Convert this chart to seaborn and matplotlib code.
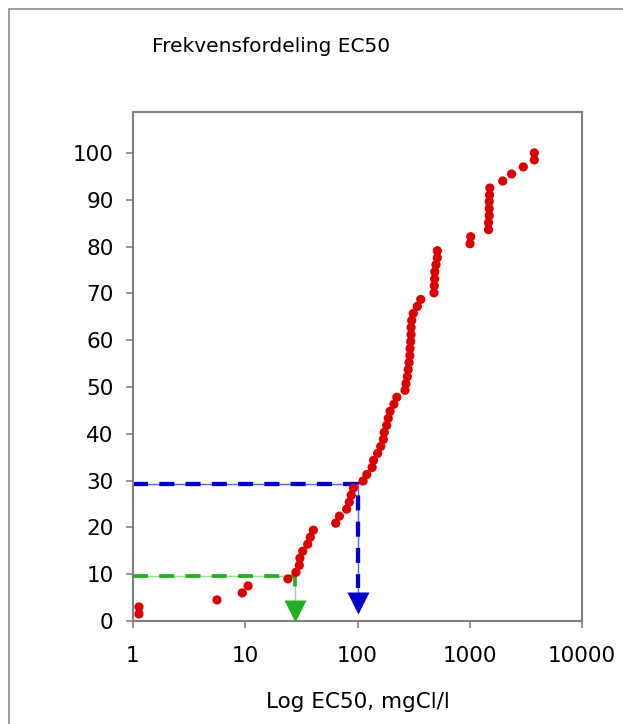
import matplotlib
matplotlib.use('Agg')
import matplotlib.pyplot as plt
import seaborn as sns
import pandas as pd
from matplotlib.patches import Rectangle

# EC50-verdier (mgCl/l), sortert
ec50 = [1.13, 1.13, 5.6, 9.4, 10.6, 24, 28.3, 30.3, 30.7, 32.5,
        36, 38, 40.4, 64, 69, 80, 84.5, 88, 92, 112,
        121, 135, 139, 151, 161, 170, 173, 182, 188, 195,
        211, 224, 265, 270, 278, 283, 288, 293, 294, 298,
        300, 300, 304, 314, 341, 366, 480, 483, 487, 488,
        500, 514, 514, 1005, 1020, 1470, 1470, 1490, 1490, 1490,
        1500, 1510, 1970, 2360, 3000, 3760, 3760]

# kumulativ frekvens (%)
freq = [1.5, 3.0, 4.5, 6.0, 7.5, 9.0, 10.4, 11.9, 13.4, 14.9,
        16.4, 17.9, 19.4, 20.9, 22.4, 23.9, 25.4, 26.9, 28.4, 29.9,
        31.3, 32.8, 34.3, 35.8, 37.3, 38.8, 40.3, 41.8, 43.3, 44.8,
        46.3, 47.8, 49.3, 50.7, 52.2, 53.7, 55.2, 56.7, 58.2, 59.7,
        61.2, 62.7, 64.2, 65.7, 67.2, 68.7, 70.1, 71.6, 73.1, 74.6,
        76.1, 77.6, 79.1, 80.6, 82.1, 83.6, 85.1, 86.6, 88.1, 89.6,
        91.0, 92.5, 94.0, 95.5, 97.0, 98.5, 100.0]

# hjelpelinjer (grønn ~10 %, blå ~30 %)
green_x, green_y = 27.7, 9.6
blue_x, blue_y = 100, 29.2

xticks = [1, 10, 100, 1000, 10000]
xticklabels = ['1', '10', '100', '1000', '10000']
yticks = list(range(0, 101, 10))

df = pd.DataFrame({'EC50': ec50, 'Frekvens': freq})

fig = plt.figure(figsize=(6.23, 7.24), dpi=100)
plt.rcParams['font.family'] = ['DejaVu Sans']
ax = fig.add_axes([133 / 623, 1 - 621 / 724, 449 / 623, 509.3 / 724])

# grønn linje
ax.plot([1, green_x, green_x], [green_y, green_y, 4.5], color='#9ed89e', lw=1, zorder=2)
ax.plot([1, green_x, green_x], [green_y, green_y, 6], color='#22b022', lw=2.7,
        dashes=(4.0, 3.0), zorder=2)
ax.plot([green_x], [2.1], marker='v', ms=16, color='#22b022', mec='none', zorder=3)

# blå linje
ax.plot([1, blue_x, blue_x], [blue_y, blue_y, 6], color='#6060ff', lw=1, zorder=2)
ax.plot([1, blue_x, blue_x], [blue_y, blue_y, 7], color='#0000cc', lw=3.1,
        dashes=(3.5, 2.6), zorder=2)
ax.plot([blue_x], [3.8], marker='v', ms=16, color='#0000cc', mec='none', zorder=3)

sns.scatterplot(data=df, x='EC50', y='Frekvens', ax=ax, color='#dd0000',
                s=44, edgecolor='none', zorder=4, clip_on=False)

ax.set_xscale('log')
ax.set_xlim(1, 10000)
ax.set_ylim(0, 108.8)
ax.set_xticks(xticks)
ax.set_xticklabels(xticklabels)
ax.minorticks_off()
ax.set_yticks(yticks)
ax.set_xlabel('')
ax.set_ylabel('')

for sp in ax.spines.values():
    sp.set_color('#808080')
    sp.set_linewidth(1.5)
ax.tick_params(direction='out', length=5, width=1.2, color='#808080', labelsize=15.5)
ax.tick_params(axis='x', pad=13)
ax.tick_params(axis='y', pad=9)

fig.text(271.5 / 623, 1 - 51.7 / 724, 'Frekvensfordeling EC50', ha='center',
         va='baseline', fontsize=14.5)
fig.text(357.5 / 623, 1 - 708 / 724, 'Log EC50, mgCl/l', ha='center',
         va='baseline', fontsize=15.5)

fig.patches.append(Rectangle((9 / 623, -0.1), 2, 1 - 9 / 724 + 0.1, transform=fig.transFigure,
                             fill=False, edgecolor='#8c8c8c', lw=1.2))

fig.savefig('out.png', dpi=100)
